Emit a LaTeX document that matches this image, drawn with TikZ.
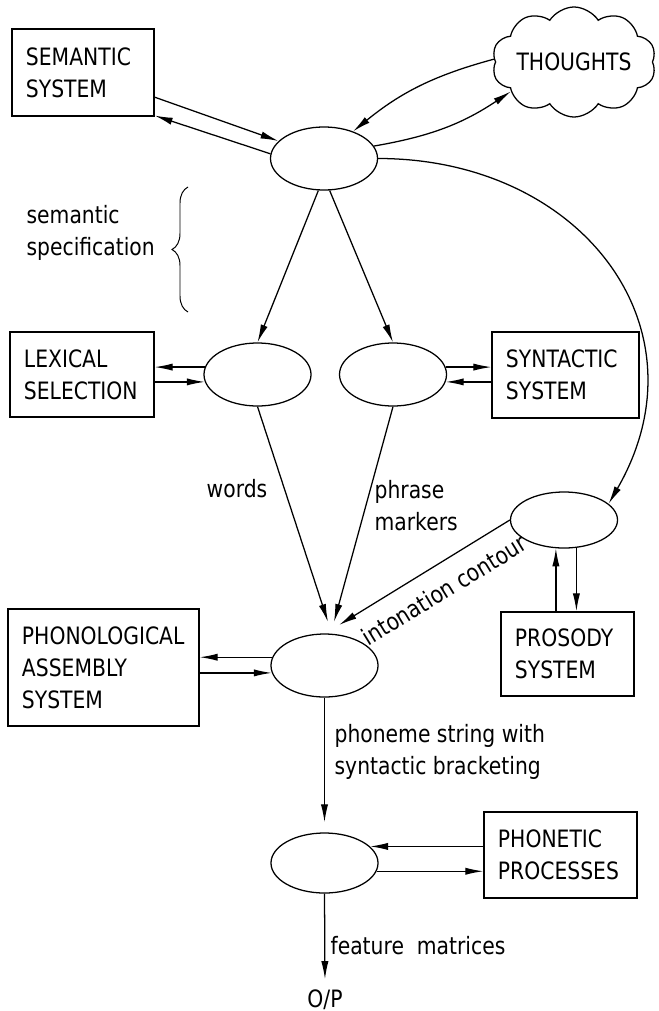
\documentclass[tikz,border=0pt]{standalone}
\usepackage{fontspec}
\setmainfont[FakeStretch=0.85]{DejaVu Sans}
\usepackage{tikz}
\usetikzlibrary{arrows.meta,shapes.geometric,shapes.symbols,decorations.pathreplacing}

\begin{document}
\begin{tikzpicture}[x=0.025cm, y=-0.025cm, line width=0.9pt,
  every node/.style={font=\fontsize{17}{22.7}\selectfont},
  box/.style={draw, align=left, inner xsep=0.35cm},
  proc/.style={draw, ellipse, minimum width=2.675cm, minimum height=1.575cm, inner sep=0pt},
  arr/.style={-{Latex[length=4.5mm,width=1.8mm]}},
  lbl/.style={align=left, inner sep=0pt}]

\useasboundingbox (0,0) rectangle (658,1011);

\node[box, text width=2.85cm, minimum height=2.175cm] (sem) at (83,72.5) {SEMANTIC\\SYSTEM};
\node[draw, cloud, cloud puffs=10, cloud puff arc=115, cloud ignores aspect, minimum width=4.1cm, minimum height=2.75cm, inner sep=0pt] (tht) at (574,62) {THOUGHTS};
\node[proc] (e1) at (324,158.5) {};

\node[box, text width=2.9cm, minimum height=2.125cm] (lex) at (82,374.5) {LEXICAL\\SELECTION};
\node[proc] (e2) at (257.5,374.5) {};
\node[proc] (e3) at (393,374.5) {};
\node[box, text width=2.975cm, minimum height=2.15cm] (syn) at (565.5,375) {SYNTACTIC\\SYSTEM};

\node[proc, minimum height=1.4cm] (e5) at (564,520) {};
\node[box, text width=2.625cm, minimum height=2.1cm] (pros) at (567.5,654) {PROSODY\\SYSTEM};

\node[box, text width=4.075cm, minimum height=2.925cm] (phonol) at (103.5,667.5) {PHONOLOGICAL\\ASSEMBLY\\SYSTEM};
\node[proc] (e4) at (324.5,665.5) {};

\node[proc, minimum height=1.5cm] (e6) at (324.5,863) {};
\node[box, text width=3.125cm, minimum height=2.15cm] (phonet) at (560.5,855) {PHONETIC\\PROCESSES};
\node[inner sep=1pt, anchor=base] (op) at (325,1007) {O/P};

\coordinate (tw) at (328,622);
\coordinate (tp) at (334,622);
\coordinate (ti) at (339,625);

\draw[arr] (sem.-19) -- (e1.159);
\draw[arr] (e1.175) -- (sem.-31);
\draw[arr] (tht.178) to[bend right=12] (e1.43);
\draw[arr] (e1.14) to[bend right=12] (tht.205);
\draw[arr] (e1.east) to[out=0, in=60, looseness=1.25] (e5.20);

\draw[decorate, decoration={brace, amplitude=0.4cm}, line width=0.7pt] (188,312) -- (188,187);
\node[lbl, anchor=west] (spec) at (26,233) {semantic\\specification};

\draw[arr] (e1.-100) -- (e2.north);
\draw[arr] (e1.-80) -- (e3.north);
\draw[arr] (e2.172) -- (e2.172 -| lex.east);
\draw[arr] (e2.188 -| lex.east) -- (e2.188);
\draw[arr] (e3.8) -- (e3.8 -| syn.west);
\draw[arr] (e3.-8 -| syn.west) -- (e3.-8);

\draw[arr] (e2.south) -- (tw);
\draw[arr] (e3.south) -- (tp);
\draw[arr] (e5.west) -- (ti);
\node[lbl] (words) at (237,489) {words};
\node[lbl, anchor=west] (phr) at (374,506) {phrase\\markers};
\node[lbl, rotate=31.5] (into) at (444,590) {intonation contour};

\draw[arr] (e5.-106 |- pros.north) -- (e5.-106);
\draw[arr] (e5.-66) -- (e5.-66 |- pros.north);

\draw[arr] (e4.171) -- (e4.171 -| phonol.east);
\draw[arr] (e4.188 -| phonol.east) -- (e4.188);
\draw[arr, shorten >=0.25cm] (e4.south) -- (e6.north);
\node[lbl, anchor=west] (phs) at (334,752) {phoneme string with\\syntactic bracketing};

\draw[arr] (e6.20 -| phonet.west) -- (e6.20);
\draw[arr] (e6.-9) -- (e6.-9 -| phonet.west);
\draw[arr, shorten >=0.2cm] (e6.south) -- (op.north);
\node[lbl, anchor=west] (fm) at (330,946) {feature\ \ matrices};
\end{tikzpicture}
\end{document}
